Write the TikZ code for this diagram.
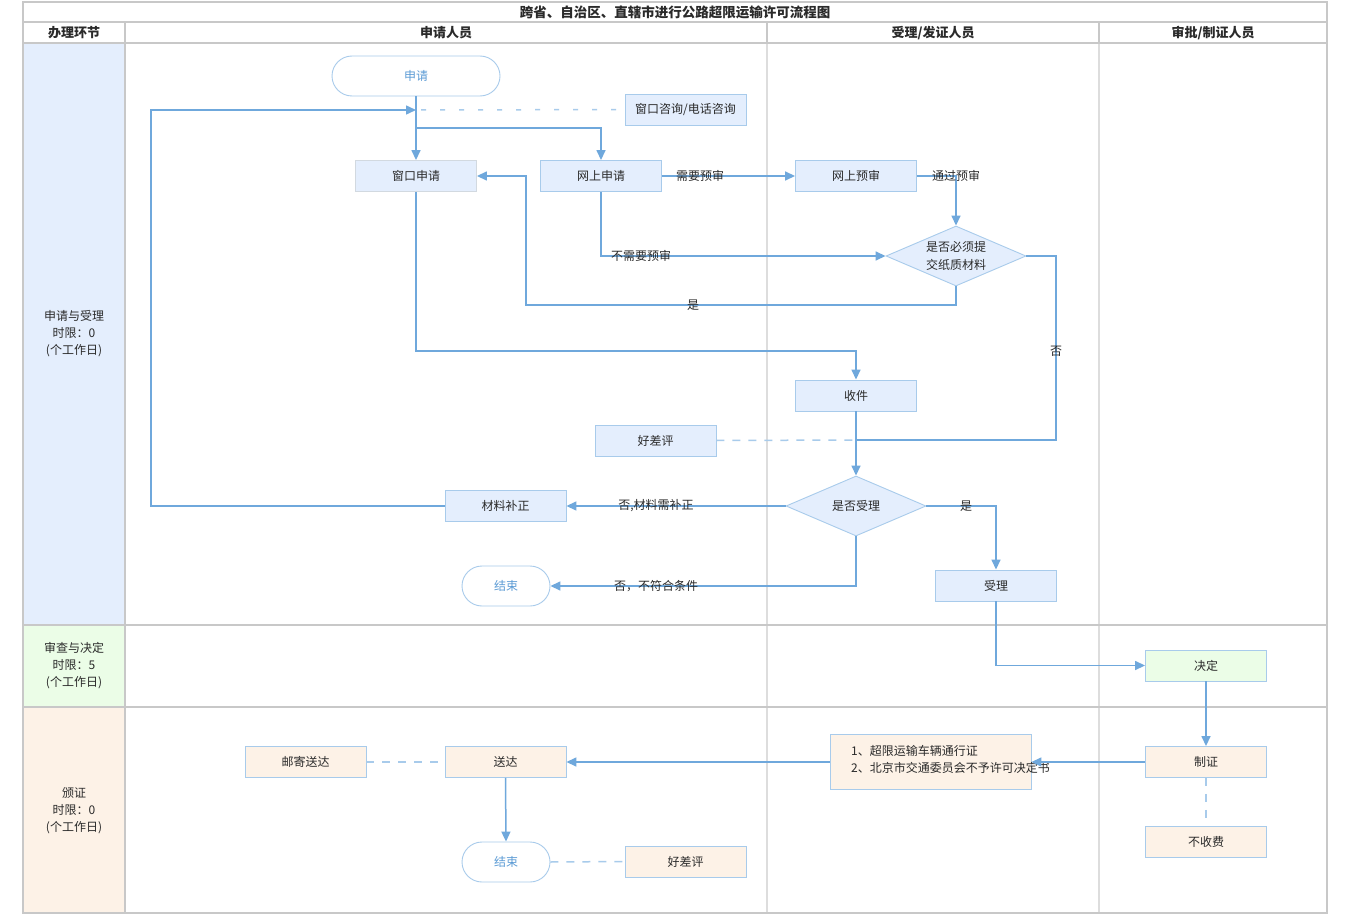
\documentclass[tikz,border=0pt]{standalone}
\usepackage{fontspec}
\setmainfont{Noto Sans CJK SC}
\usetikzlibrary{arrows.meta,shapes.geometric}
\definecolor{blueF}{HTML}{E4EEFD}
\definecolor{greenF}{HTML}{EBFDE7}
\definecolor{orangeF}{HTML}{FDF2E7}
\definecolor{nodeB}{HTML}{A8CBEB}
\definecolor{lineC}{HTML}{6FA8DC}
\definecolor{dashC}{HTML}{A8CBEB}
\definecolor{textC}{HTML}{2A2A2A}
\definecolor{termT}{HTML}{5B9BD5}
\definecolor{gridC}{HTML}{C8C8C8}
\definecolor{gridL}{HTML}{DDDDDD}
\begin{document}
\begin{tikzpicture}[x=1pt,y=-1pt,
  font=\fontsize{12}{17}\selectfont,
  box/.style={draw=nodeB, line width=0.9pt, fill=#1, minimum width=121pt, minimum height=31pt, inner sep=0pt, text=textC},
  box/.default=blueF,
  term/.style={draw=nodeB, line width=0.9pt, fill=white, rounded corners=20pt, minimum height=40pt, inner sep=0pt, text=termT},
  dia/.style={draw=nodeB, line width=0.9pt, fill=blueF, shape=diamond, aspect=2.333, minimum width=140pt, minimum height=60pt, inner sep=0pt, align=center, text=textC, font=\fontsize{12}{18}\selectfont},
  conn/.style={draw=lineC, line width=1.5pt},
  arr/.style={conn, -{Triangle[length=10pt,width=9pt]}},
  dashln/.style={draw=dashC, line width=1.5pt, dash pattern=on 8pt off 8pt},
  lbl/.style={text=textC, inner sep=0pt},
  hdr/.style={font=\bfseries\fontsize{13}{16}\selectfont, text=textC, inner sep=0pt},
  lane/.style={align=center, text=textC, inner sep=0pt}
]
\useasboundingbox (0,0) rectangle (1350,915);
\fill[white] (0,0) rectangle (1350,915);
% lane fills
\fill[blueF] (23,43) rectangle (125,625);
\fill[greenF] (23,625) rectangle (125,707);
\fill[orangeF] (23,707) rectangle (125,913);
% light column lines
\draw[gridL, line width=1.5pt] (767,43) -- (767,913);
\draw[gridL, line width=1.5pt] (1099,43) -- (1099,913);
% grid
\draw[gridC, line width=2pt] (23,2) rectangle (1327,913);
\draw[gridC, line width=2pt] (23,22) -- (1327,22);
\draw[gridC, line width=2pt] (23,43) -- (1327,43);
\draw[gridC, line width=2pt] (23,625) -- (1327,625);
\draw[gridC, line width=2pt] (23,707) -- (1327,707);
\draw[gridC, line width=2pt] (125,22) -- (125,913);
\draw[gridC, line width=2pt] (767,22) -- (767,43);
\draw[gridC, line width=2pt] (1099,22) -- (1099,43);
% headers
\node[hdr, font=\bfseries\fontsize{13.5}{16}\selectfont] (title) at (675,12) {跨省、自治区、直辖市进行公路超限运输许可流程图};
\node[hdr] (h0) at (74,33) {办理环节};
\node[hdr] (h1) at (446,33) {申请人员};
\node[hdr] (h2) at (933,33) {受理/发证人员};
\node[hdr] (h3) at (1213,33) {审批/制证人员};
% lane labels
\node[lane] (lane1) at (74,334) {申请与受理\\时限：0\\(个工作日)};
\node[lane] (lane2) at (74,666) {审查与决定\\时限：5\\(个工作日)};
\node[lane] (lane3) at (74,811) {颁证\\时限：0\\(个工作日)};
% nodes
\node[term, minimum width=168pt] (start) at (416,76) {申请};
\node[box] (consult) at (685.5,109.5) {窗口咨询/电话咨询};
\node[box, draw=gridL!80!nodeB] (win) at (416,176) {窗口申请};
\node[box] (web) at (601,176) {网上申请};
\node[box] (pre) at (856,176) {网上预审};
\node[dia] (d1) at (956,256) {是否必须提\\交纸质材料};
\node[box] (recv) at (856,395.5) {收件};
\node[box] (good1) at (655.5,440.5) {好差评};
\node[dia] (d2) at (856,506) {是否受理};
\node[box] (bz) at (505.5,506) {材料补正};
\node[term, minimum width=88pt] (end1) at (506,586) {结束};
\node[box] (acc) at (996,585.5) {受理};
\node[box=greenF] (dec) at (1206,665.5) {决定};
\node[box=orangeF] (make) at (1206,762) {制证};
\node[box=orangeF] (free) at (1206,841.5) {不收费};
\node[box=orangeF, minimum width=201pt, minimum height=55pt] (cert) at (930.5,762) {};
\node[lbl, anchor=west, align=left] (certT) at (851,759) {1、超限运输车辆通行证\\2、北京市交通委员会不予许可决定书};
\node[box=orangeF] (send) at (505.5,762) {送达};
\node[box=orangeF] (mail) at (305.5,762) {邮寄送达};
\node[term, minimum width=88pt] (end2) at (506,862) {结束};
\node[box=orangeF] (good2) at (685.5,861.5) {好差评};
% junctions
\coordinate (jA) at (416,110);
\coordinate (jA2) at (421,110);
\coordinate (jB) at (416,128);
\coordinate (jC) at (856,440);
% connectors
\draw[arr] (start.south) -- (win.north);
\draw[arr] (jB) -| (web.north);
\draw[arr] (bz.west) -- (151,506) -- (151,110) -- (jA);
\draw[dashln, dash pattern=on 5pt off 14pt] (jA2) -- (consult.west);
\draw[arr] (web.east) -- (pre.west);
\draw[arr] (pre.east) -| (d1.north);
\draw[arr] (web.south) |- (d1.west);
\draw[arr] (d1.south) -- (956,305) -- (526,305) -- (526,176) -- (win.east);
\draw[conn] (d1.east) -- (1056,256) -- (1056,440) -- (jC);
\draw[arr] (win.south) -- (416,351) -| (recv.north);
\draw[arr] (recv.south) -- (d2.north);
\draw[dashln] (good1.east) -- (jC);
\draw[arr] (d2.west) -- (bz.east);
\draw[arr] (d2.south) |- (end1.east);
\draw[arr] (d2.east) -| (acc.north);
\draw[arr] (acc.south) |- (dec.west);
\draw[arr] (dec.south) -- (make.north);
\draw[arr] (make.west) -- (cert.east);
\draw[arr] (cert.west) -- (send.east);
\draw[dashln] (mail.east) -- (send.west);
\draw[arr] (send.south) -- (end2.north);
\draw[dashln] (end2.east) -- (good2.west);
\draw[dashln] (make.south) -- (free.north);
% connector labels
\node[lbl] (lNeed) at (700,176) {需要预审};
\node[lbl] (lPass) at (956,176) {通过预审};
\node[lbl] (lNoNeed) at (641,256) {不需要预审};
\node[lbl] (lYes1) at (693,305) {是};
\node[lbl] (lNo1) at (1056,351) {否};
\node[lbl] (lNo2) at (656,506) {否,材料需补正};
\node[lbl] (lNo3) at (656,586) {否，不符合条件};
\node[lbl] (lYes2) at (966,506) {是};
\end{tikzpicture}
\end{document}
